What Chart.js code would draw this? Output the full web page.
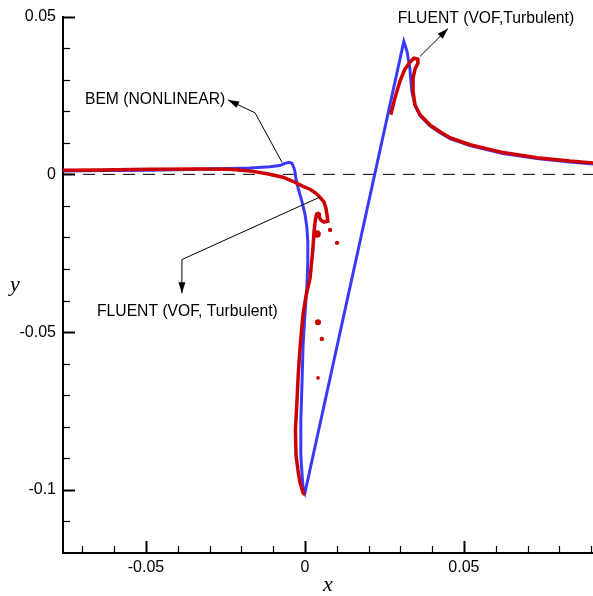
<!DOCTYPE html>
<html>
<head>
<meta charset="utf-8">
<script src="https://cdn.jsdelivr.net/npm/chart.js@4.4.1/dist/chart.umd.min.js"></script>
<style>
  html, body { margin: 0; padding: 0; background: #fff; }
  #wrap { width: 593px; height: 596px; }
</style>
</head>
<body>
<div id="wrap"><canvas id="plot" width="593" height="596"></canvas></div>
<script>
// BEM (nonlinear) free surface
const bemX = [-0.0761, -0.0645, -0.0487, -0.0330, -0.0173, -0.0110, -0.0079, -0.0063, -0.0050, -0.0041,
              -0.0035, -0.0031, -0.0028, -0.0022, -0.0009, 0.0000, 0.0006, 0.0009, 0.0009, 0.0006,
              0.0000, -0.0006, -0.0009, -0.0013, -0.0013, -0.0009, -0.0006, 0.0000,
              0.0311, 0.0321, 0.0330, 0.0336, 0.0346, 0.0362, 0.0393, 0.0425, 0.0456, 0.0519,
              0.0623, 0.0730, 0.0833, 0.0906];
const bemY = [0.0011, 0.0012, 0.0013, 0.0016, 0.0020, 0.0024, 0.0028, 0.0035, 0.0038, 0.0035,
              0.0022, 0.0006, -0.0016, -0.0041, -0.0088, -0.0126, -0.0167, -0.0214, -0.0277, -0.0355,
              -0.0443, -0.0544, -0.0654, -0.0780, -0.0890, -0.0953, -0.0991, -0.1009,
              0.0421, 0.0390, 0.0336, 0.0264, 0.0220, 0.0186, 0.0154, 0.0132, 0.0113, 0.0091,
              0.0066, 0.0050, 0.0039, 0.0033];

// FLUENT (VOF, turbulent) - main surface down to the cavity bottom
const fluentX = [-0.0761, -0.0645, -0.0487, -0.0330, -0.0236, -0.0173, -0.0119, -0.0069, -0.0038, -0.0006,
                 0.0016, 0.0035, 0.0047, 0.0060, 0.0066, 0.0069, 0.0072, 0.0060, 0.0050, 0.0041,
                 0.0035, 0.0031, 0.0028, 0.0025, 0.0016, 0.0003, -0.0006, -0.0015, -0.0021, -0.0025,
                 -0.0030, -0.0028, -0.0022, -0.0016, -0.0006, 0.0000];
const fluentY = [0.0013, 0.0014, 0.0016, 0.0017, 0.0016, 0.0011, 0.0002, -0.0009, -0.0022, -0.0038,
                 -0.0047, -0.0060, -0.0072, -0.0088, -0.0107, -0.0126, -0.0148, -0.0151, -0.0145, -0.0126,
                 -0.0132, -0.0157, -0.0189, -0.0236, -0.0330, -0.0387, -0.0443, -0.0544, -0.0632, -0.0717,
                 -0.0811, -0.0890, -0.0937, -0.0975, -0.1009, -0.1016];

// FLUENT - jet tip and right-hand surface
const fluentTipX = [0.0270, 0.0283, 0.0299, 0.0314, 0.0330, 0.0343, 0.0355, 0.0355, 0.0346, 0.0340,
                    0.0340, 0.0346, 0.0362, 0.0393, 0.0425, 0.0456, 0.0519, 0.0623, 0.0730, 0.0833, 0.0906];
const fluentTipY = [0.0189, 0.0242, 0.0296, 0.0333, 0.0355, 0.0368, 0.0365, 0.0352, 0.0333, 0.0305,
                    0.0264, 0.0220, 0.0189, 0.0157, 0.0135, 0.0116, 0.0094, 0.0069, 0.0053, 0.0042, 0.0036];

// FLUENT - detached droplets
const dropX = [0.0041, 0.0038, 0.0079, 0.0101, 0.0041, 0.0053, 0.0041];
const dropY = [-0.0129, -0.0189, -0.0176, -0.0217, -0.0469, -0.0522, -0.0645];

const xMajorTicks = [-0.05, 0, 0.05];
const yMajorTicks = [0.05, 0, -0.05, -0.1];

const xMin = -0.0761, xMax = 0.0906;
const yMin = -0.12, yMax = 0.05;

const zip = (xs, ys) => xs.map((x, i) => ({ x: x, y: ys[i] }));

// Callouts: text anchor (left, middle) and leader path ending at the arrow tip
const notes = [
    { text: "BEM (NONLINEAR)", at: [-0.0692, 0.0236],
      path: [[-0.0072, 0.0038], [-0.0157, 0.0195], [-0.0242, 0.0236]] },
    { text: "FLUENT (VOF, Turbulent)", at: [-0.0654, -0.0434],
      path: [[0.0047, -0.0072], [-0.0387, -0.0270], [-0.0387, -0.0377]] },
    { text: "FLUENT (VOF,Turbulent)", at: [0.0292, 0.0494],
      path: [[0.0362, 0.0374], [0.0450, 0.0462]] }
];

const FONT = "'Liberation Sans', Arial, Helvetica, sans-serif";

function arrowHead(ctx, fx, fy, tx, ty) {
    const a = Math.atan2(ty - fy, tx - fx);
    const len = 11, half = 3.5;
    const bx = tx - len * Math.cos(a), by = ty - len * Math.sin(a);
    ctx.beginPath();
    ctx.moveTo(tx, ty);
    ctx.lineTo(bx + half * Math.sin(a), by - half * Math.cos(a));
    ctx.lineTo(bx - half * Math.sin(a), by + half * Math.cos(a));
    ctx.closePath();
    ctx.fill();
}

const decorations = {
    id: "decorations",
    afterDraw(chart) {
        const { ctx, chartArea, scales } = chart;
        const sx = scales.x, sy = scales.y;
        ctx.save();
        ctx.strokeStyle = "#000";
        ctx.fillStyle = "#000";

        // inward ticks on the bottom axis
        for (let i = -7; i <= 9; i++) {
            const v = i / 100;
            const major = i % 5 === 0;
            const px = Math.round(sx.getPixelForValue(v)) + 0.5;
            ctx.lineWidth = major ? 2 : 1.2;
            ctx.beginPath();
            ctx.moveTo(px, chartArea.bottom);
            ctx.lineTo(px, chartArea.bottom - (major ? 12 : 7));
            ctx.stroke();
        }
        // inward ticks on the left axis
        for (let i = -11; i <= 5; i++) {
            const v = i / 100;
            const major = i % 5 === 0;
            const py = Math.round(sy.getPixelForValue(v)) + 0.5;
            ctx.lineWidth = major ? 2 : 1.2;
            ctx.beginPath();
            ctx.moveTo(chartArea.left, py);
            ctx.lineTo(chartArea.left + (major ? 12 : 7), py);
            ctx.stroke();
        }

        // callouts
        ctx.font = "15.7px " + FONT;
        ctx.textBaseline = "middle";
        ctx.textAlign = "left";
        notes.forEach(n => {
            ctx.fillText(n.text, sx.getPixelForValue(n.at[0]), sy.getPixelForValue(n.at[1]));
            const pts = n.path.map(p => [sx.getPixelForValue(p[0]), sy.getPixelForValue(p[1])]);
            ctx.lineWidth = 1;
            ctx.beginPath();
            pts.forEach((p, i) => (i ? ctx.lineTo(p[0], p[1]) : ctx.moveTo(p[0], p[1])));
            ctx.stroke();
            const a = pts[pts.length - 2], b = pts[pts.length - 1];
            arrowHead(ctx, a[0], a[1], b[0], b[1]);
        });

        // axis titles (upright, italic serif)
        ctx.font = "italic 22px 'Liberation Serif', 'Times New Roman', serif";
        ctx.textAlign = "center";
        ctx.fillText("x", (chartArea.left + chartArea.right) / 2, 585);
        ctx.fillText("y", 15, (chartArea.top + chartArea.bottom) / 2);
        ctx.restore();
    }
};

Chart.defaults.font.family = FONT;
Chart.defaults.font.size = 16;
Chart.defaults.color = "#000";

new Chart(document.getElementById("plot"), {
    type: "scatter",
    data: {
        datasets: [
            {
                label: "FLUENT droplets",
                data: zip(dropX, dropY),
                showLine: false,
                pointRadius: [3.2, 3.8, 2.2, 2.2, 3, 2.2, 1.8],
                pointBackgroundColor: "#cc0000",
                pointBorderWidth: 0
            },
            {
                label: "FLUENT (VOF, Turbulent)",
                data: zip(fluentX, fluentY),
                showLine: true,
                borderColor: "#cc0000",
                borderWidth: 3.5,
                pointRadius: 0,
                tension: 0
            },
            {
                label: "FLUENT (VOF,Turbulent)",
                data: zip(fluentTipX, fluentTipY),
                showLine: true,
                borderColor: "#cc0000",
                borderWidth: 3.5,
                pointRadius: 0,
                tension: 0
            },
            {
                label: "BEM (NONLINEAR)",
                data: zip(bemX, bemY),
                showLine: true,
                borderColor: "#3a3aff",
                borderWidth: 3,
                pointRadius: 0,
                tension: 0
            },
            {
                label: "zero",
                data: [{ x: xMin, y: 0 }, { x: xMax, y: 0 }],
                showLine: true,
                borderColor: "#000",
                borderWidth: 1,
                borderDash: [12, 8],
                pointRadius: 0
            }
        ]
    },
    options: {
        responsive: false,
        animation: false,
        devicePixelRatio: 1,
        layout: { autoPadding: false, padding: { top: 13, right: 0, left: 0, bottom: 0 } },
        plugins: {
            legend: { display: false },
            tooltip: { enabled: false }
        },
        scales: {
            x: {
                type: "linear",
                min: xMin,
                max: xMax,
                grid: { display: false, drawTicks: false },
                border: { display: true, color: "#000", width: 2 },
                afterBuildTicks: scale => { scale.ticks = xMajorTicks.map(v => ({ value: v })); },
                afterFit: scale => { scale.height = 43; },
                ticks: {
                    padding: 5,
                    maxRotation: 0,
                    callback: v => (v === 0 ? "0" : String(v))
                }
            },
            y: {
                type: "linear",
                min: yMin,
                max: yMax,
                grid: { display: false, drawTicks: false },
                border: { display: true, color: "#000", width: 2 },
                afterBuildTicks: scale => { scale.ticks = yMajorTicks.map(v => ({ value: v })); },
                afterFit: scale => { scale.width = 63; },
                ticks: {
                    padding: 7,
                    callback: v => (v === 0 ? "0" : String(v))
                }
            }
        }
    },
    plugins: [decorations]
});
</script>
</body>
</html>
